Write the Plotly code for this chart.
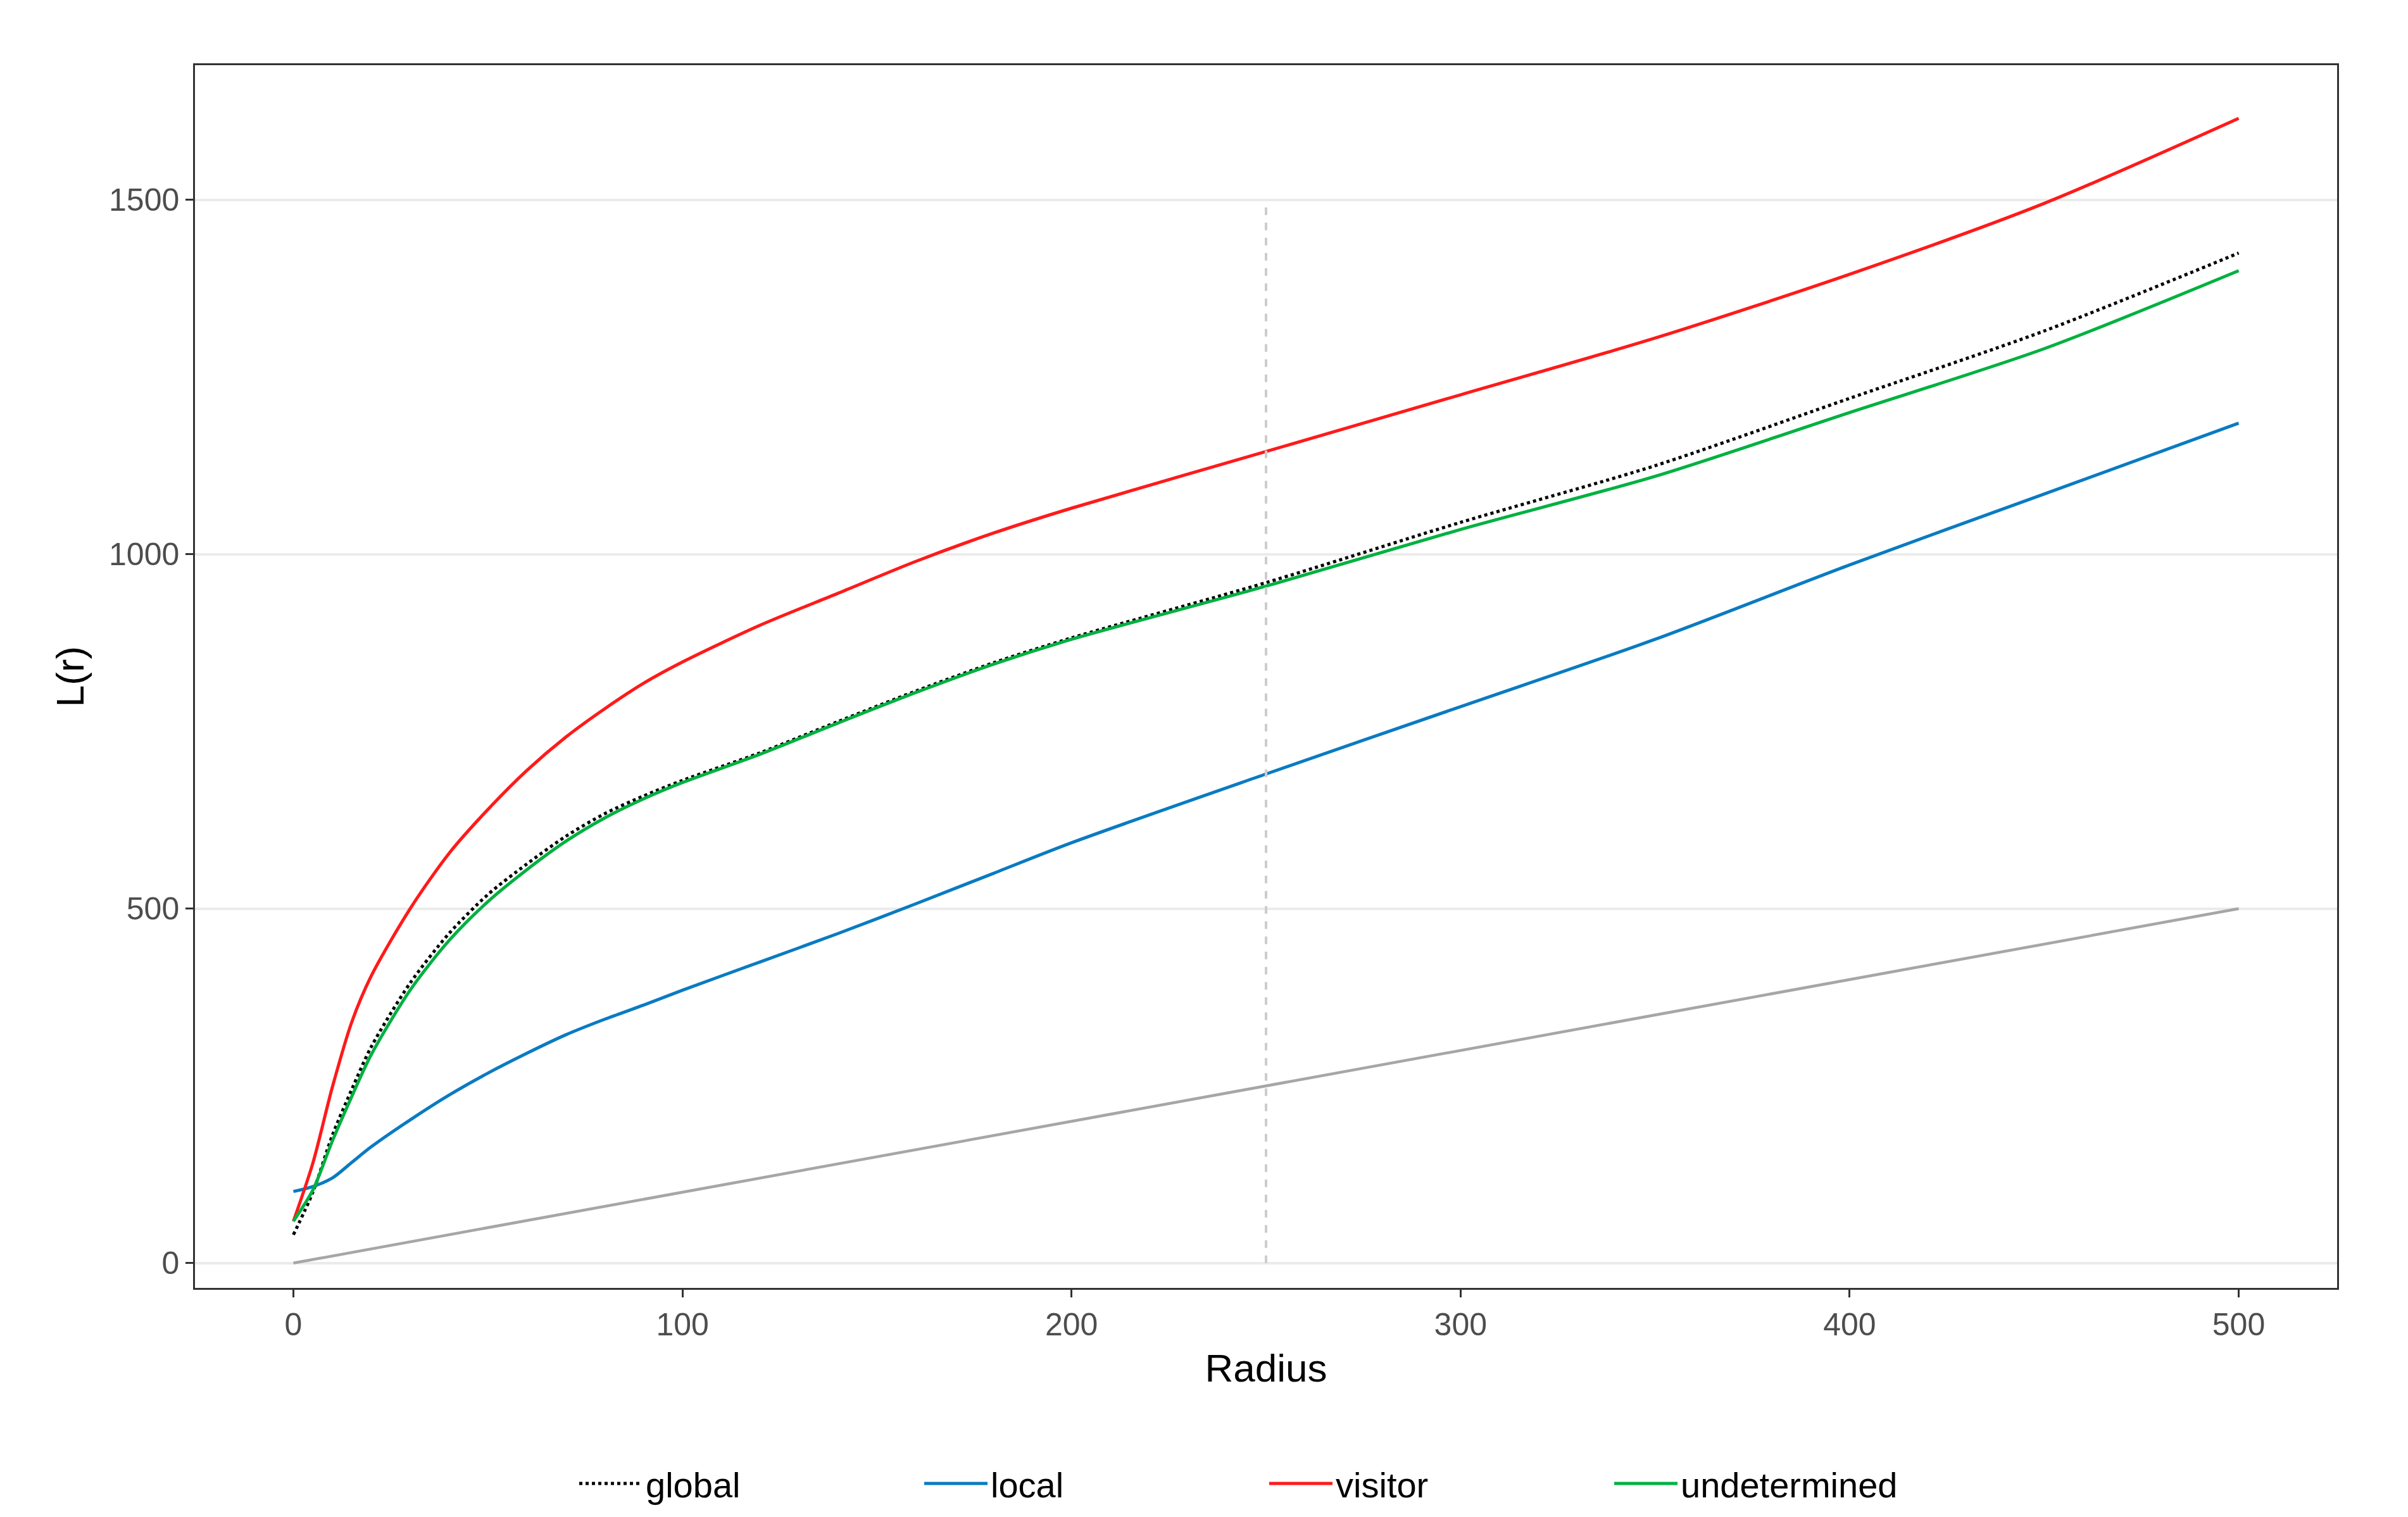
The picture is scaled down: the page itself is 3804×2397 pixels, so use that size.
import plotly.graph_objects as go

r = [0, 5, 10, 15, 20, 30, 40, 50, 60, 70, 80, 90, 100, 120, 140, 160, 180, 200, 250, 300, 350, 400, 450, 500]
visitor = [59, 141, 248, 340, 405, 500, 578, 640, 695, 742, 782, 818, 848, 900, 945, 990, 1030, 1065, 1145, 1225, 1305, 1395, 1495, 1615]
undetermined = [59, 103, 172, 235, 294, 385, 455, 510, 555, 595, 628, 655, 678, 718, 762, 805, 845, 880, 955, 1035, 1110, 1200, 1290, 1400]
glob = [40, 100, 180, 245, 305, 395, 465, 520, 563, 602, 634, 659, 681, 720, 764, 807, 847, 882, 960, 1045, 1125, 1220, 1315, 1425]
local = [101, 108, 120, 142, 164, 202, 237, 268, 296, 322, 344, 364, 385, 425, 465, 507, 550, 593, 690, 785, 880, 985, 1085, 1185]
ref_r = [0, 500]

font = "Arial, Liberation Sans"
fig = go.Figure()
fig.add_trace(go.Scatter(x=ref_r, y=ref_r, mode="lines", line=dict(color="#A6A6A6", width=4.5), showlegend=False))
fig.add_trace(go.Scatter(x=r, y=glob, mode="lines", name="global", line=dict(color="black", width=5, dash="dot", shape="spline", smoothing=0.8)))
fig.add_trace(go.Scatter(x=r, y=local, mode="lines", name="local", line=dict(color="#0A7BC1", width=5, shape="spline", smoothing=0.8)))
fig.add_trace(go.Scatter(x=r, y=visitor, mode="lines", name="visitor", line=dict(color="#FF1A1A", width=5, shape="spline", smoothing=0.8)))
fig.add_trace(go.Scatter(x=r, y=undetermined, mode="lines", name="undetermined", line=dict(color="#00B140", width=5, shape="spline", smoothing=0.8)))

fig.add_shape(type="line", x0=250, x1=250, y0=0, y1=1500, xref="x", yref="y",
              line=dict(color="#CCCCCC", width=4, dash="dash"))

axis_common = dict(showline=True, linecolor="#333333", linewidth=2.5, mirror=True,
                   ticks="outside", ticklen=12, tickwidth=2.5, tickcolor="#333333",
                   tickfont=dict(family=font, size=50, color="#4D4D4D"),
                   zeroline=False)
fig.update_xaxes(range=[-25.3, 525.3], tickvals=[0, 100, 200, 300, 400, 500], showgrid=False,
                 title=dict(text="Radius", standoff=20, font=dict(family=font, size=62, color="black")),
                 **axis_common)
fig.update_yaxes(range=[-35, 1690], tickvals=[0, 500, 1000, 1500], showgrid=True, gridcolor="#EBEBEB", gridwidth=4,
                 title=dict(text="L(r)", standoff=20, font=dict(family=font, size=62, color="black")),
                 **axis_common)
fig.update_layout(width=3804, height=2397, plot_bgcolor="white", paper_bgcolor="white",
                  margin=dict(l=300, r=120, t=95, b=370),
                  legend=dict(orientation="h", x=0.5, xanchor="center", y=-0.16, yanchor="middle",
                              font=dict(family=font, size=56, color="black"),
                              itemwidth=100, entrywidth=430))
fig.write_html("out.html")
